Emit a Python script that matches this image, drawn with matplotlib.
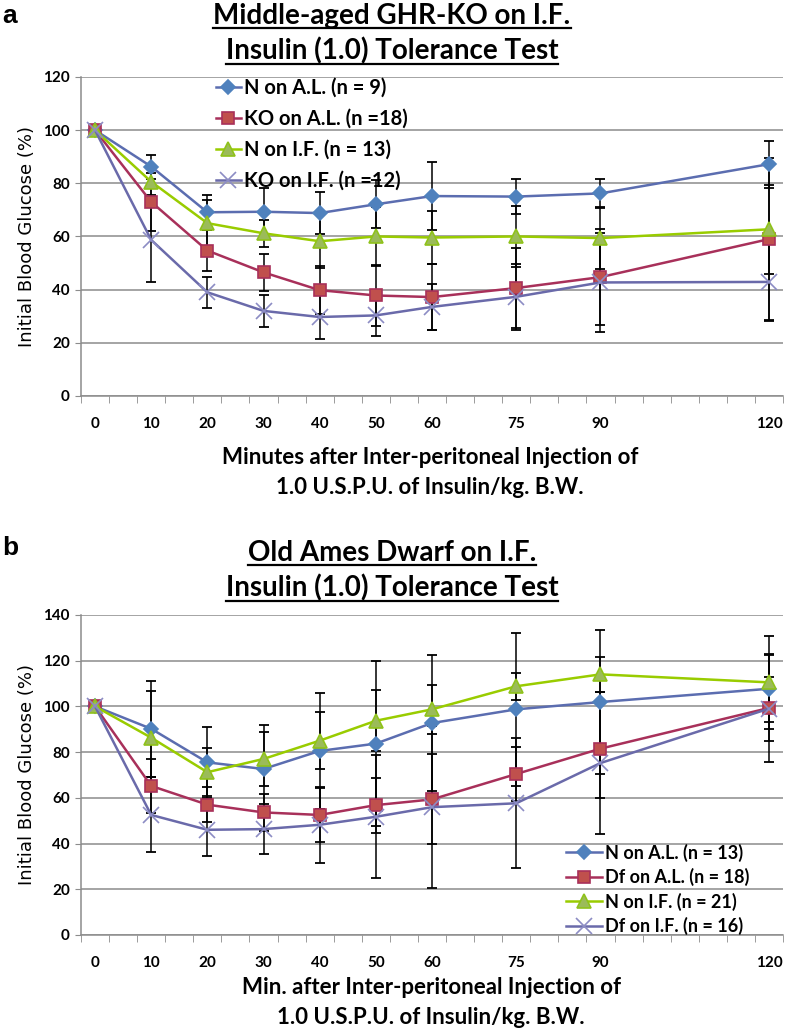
import numpy as np
import matplotlib
matplotlib.use("Agg")
import matplotlib.pyplot as plt
from matplotlib.lines import Line2D

plt.rcParams['font.family'] = ['Lato', 'DejaVu Sans']

# minutes after injection
minutes = [0, 10, 20, 30, 40, 50, 60, 75, 90, 120]
tick_labels = ['0', '10', '20', '30', '40', '50', '60', '75', '90', '120']

# panel a - middle-aged GHR-KO
a_n_al = [100, 86.3, 69.1, 69.3, 68.8, 72.1, 75.2, 75.0, 76.2, 87.2]
a_n_al_sd = [0, 4.5, 6.5, 8.8, 7.8, 9.0, 12.9, 6.5, 5.6, 8.8]
a_ko_al = [100, 73.0, 54.7, 46.5, 39.8, 37.8, 37.2, 40.6, 44.7, 59.0]
a_ko_al_sd = [0, 10.8, 7.6, 7.0, 9.0, 11.3, 12.5, 15.0, 18.0, 30.5]
a_n_if = [100, 80.6, 65.0, 61.2, 58.2, 60.0, 59.6, 60.0, 59.4, 62.7]
a_n_if_sd = [0, 5.0, 8.7, 5.0, 10.0, 11.0, 10.0, 11.5, 11.5, 16.7]
a_ko_if = [100, 58.7, 39.0, 32.0, 29.7, 30.3, 33.5, 37.3, 42.7, 42.9]
a_ko_if_sd = [0, 15.8, 5.8, 6.0, 8.1, 7.7, 8.8, 12.5, 18.7, 14.8]
a_labels = ['N on A.L. (n = 9)', 'KO on A.L. (n =18)', 'N on I.F. (n = 13)', 'KO on I.F. (n =12)']

# panel b - old Ames dwarf
b_n_al = [100, 90.2, 75.5, 72.6, 80.5, 83.7, 92.7, 98.7, 101.9, 107.7]
b_n_al_sd = [0, 21.0, 15.4, 19.3, 25.5, 36.0, 29.7, 33.5, 31.5, 14.6]
b_df_al = [100, 65.2, 57.0, 53.6, 52.5, 56.8, 59.3, 70.4, 81.5, 99.3]
b_df_al_sd = [0, 11.7, 7.8, 8.0, 12.0, 12.0, 19.7, 12.0, 21.5, 23.8]
b_n_if = [100, 86.3, 71.2, 77.0, 85.0, 93.7, 98.7, 108.8, 114.0, 110.5]
b_n_if_sd = [0, 20.4, 10.6, 11.7, 12.4, 13.4, 10.8, 6.0, 7.7, 20.3]
b_df_if = [100, 52.5, 46.0, 46.3, 48.2, 51.7, 55.9, 57.6, 75.2, 99.0]
b_df_if_sd = [0, 16.4, 11.4, 10.8, 16.6, 27.0, 35.4, 28.5, 31.0, 14.0]
b_labels = ['N on A.L. (n = 13)', 'Df on A.L. (n = 18)', 'N on I.F. (n = 21)', 'Df on I.F. (n = 16)']

# line colour, marker, marker face, marker edge, marker size
styles = [
    dict(color='#5b6db0', marker='D', mfc='#4f81bd', mec='#4f81bd', ms=7.5),
    dict(color='#a8305a', marker='s', mfc='#c0504d', mec='#a8305a', ms=9),
    dict(color='#99cc00', marker='^', mfc='#9bbb59', mec='#8fc21a', ms=9.5),
    dict(color='#6a6aaa', marker='x', mfc='none', mec='#8c8cc4', ms=11),
]

GRID = '#8c8c8c'


def draw_panel(ax, series, sds, labels, ymax):
    for vals, sd, lab, st in zip(series, sds, labels, styles):
        ax.errorbar(minutes, vals, yerr=sd, fmt='none', ecolor='black',
                    elinewidth=1.1, capsize=3.5, capthick=1.3, zorder=3)
        ax.plot(minutes, vals, color=st['color'], lw=1.8, marker=st['marker'],
                mfc=st['mfc'], mec=st['mec'], ms=st['ms'], mew=1.2,
                label=lab, zorder=4)
    ax.set_xlim(-2.5, 122.5)
    ax.set_ylim(0, ymax)
    ax.set_yticks(np.arange(0, ymax + 1, 20))
    ax.yaxis.grid(True, color=GRID, lw=1.1)
    ax.set_axisbelow(True)
    ax.set_xticks(minutes)
    ax.set_xticklabels(tick_labels)
    ax.set_xticks(np.arange(-2.5, 123, 5), minor=True)
    ax.tick_params(axis='x', which='major', length=0, pad=15, labelsize=11)
    ax.tick_params(axis='x', which='minor', length=5, color=GRID, direction='out')
    ax.tick_params(axis='y', length=4, color=GRID, pad=4, labelsize=11)
    for t in ax.get_xticklabels() + ax.get_yticklabels():
        t.set_fontweight('bold')
    for s in ['top', 'right']:
        ax.spines[s].set_visible(False)
    for s in ['left', 'bottom']:
        ax.spines[s].set_color(GRID)
        ax.spines[s].set_linewidth(1.1)
    ax.set_ylabel('Initial Blood Glucose (%)', family='DejaVu Sans',
                  fontsize=13, labelpad=5)


fig = plt.figure(figsize=(7.87, 10.29), dpi=100)
ax_a = fig.add_axes([0.1029, 0.6152, 0.892, 0.31])
ax_b = fig.add_axes([0.1029, 0.0914, 0.892, 0.311])

draw_panel(ax_a, [a_n_al, a_ko_al, a_n_if, a_ko_if],
           [a_n_al_sd, a_ko_al_sd, a_n_if_sd, a_ko_if_sd], a_labels, 120)
draw_panel(ax_b, [b_n_al, b_df_al, b_n_if, b_df_if],
           [b_n_al_sd, b_df_al_sd, b_n_if_sd, b_df_if_sd], b_labels, 140)

ax_a.legend(loc='upper left', bbox_to_anchor=(0.192, 0.997), frameon=False,
            prop=dict(family='Lato', weight='bold', size=14.5),
            handlelength=1.25, handletextpad=0.15, labelspacing=0.55,
            borderpad=0, borderaxespad=0)
ax_b.legend(loc='lower right', bbox_to_anchor=(0.952, 0.0), frameon=False,
            prop=dict(family='Lato', weight='bold', size=13),
            handlelength=2.0, handletextpad=0.15, labelspacing=0.35,
            borderpad=0, borderaxespad=0)

H = 1029.0
W = 787.0

titles = []
tkw = dict(ha='center', va='center', fontsize=20, fontweight='bold')
titles.append(fig.text(392 / W, 1 - 16 / H, 'Middle-aged GHR-KO on I.F.', **tkw))
titles.append(fig.text(392 / W, 1 - 51 / H, 'Insulin (1.0) Tolerance Test', **tkw))
titles.append(fig.text(392 / W, 1 - 553 / H, 'Old Ames Dwarf on I.F.', **tkw))
titles.append(fig.text(392 / W, 1 - 588 / H, 'Insulin (1.0) Tolerance Test', **tkw))

fig.text(2 / W, 1 - 16 / H, 'a', family='Liberation Sans', fontweight='bold',
         fontsize=19, va='center', ha='left')
fig.text(2 / W, 1 - 548 / H, 'b', family='Liberation Sans', fontweight='bold',
         fontsize=19, va='center', ha='left')

xkw = dict(ha='center', va='center', fontsize=16, fontweight='bold')
fig.text(430 / W, 1 - 457 / H, 'Minutes after Inter-peritoneal Injection of', **xkw)
fig.text(430 / W, 1 - 487 / H, '1.0 U.S.P.U. of Insulin/kg. B.W.', **xkw)
fig.text(431 / W, 1 - 988 / H, 'Min. after Inter-peritoneal Injection of', **xkw)
fig.text(431 / W, 1 - 1017 / H, '1.0 U.S.P.U. of Insulin/kg. B.W.', **xkw)

# underline the titles
fig.canvas.draw()
renderer = fig.canvas.get_renderer()
inv = fig.transFigure.inverted()
for t in titles:
    bb = t.get_window_extent(renderer)
    (x0, y0), (x1, _) = inv.transform([(bb.x0, bb.y0 + 1), (bb.x1, bb.y0 + 1)])
    fig.add_artist(Line2D([x0, x1], [y0, y0], transform=fig.transFigure,
                          color='black', lw=1.6))

fig.savefig('out.png', dpi=100)
